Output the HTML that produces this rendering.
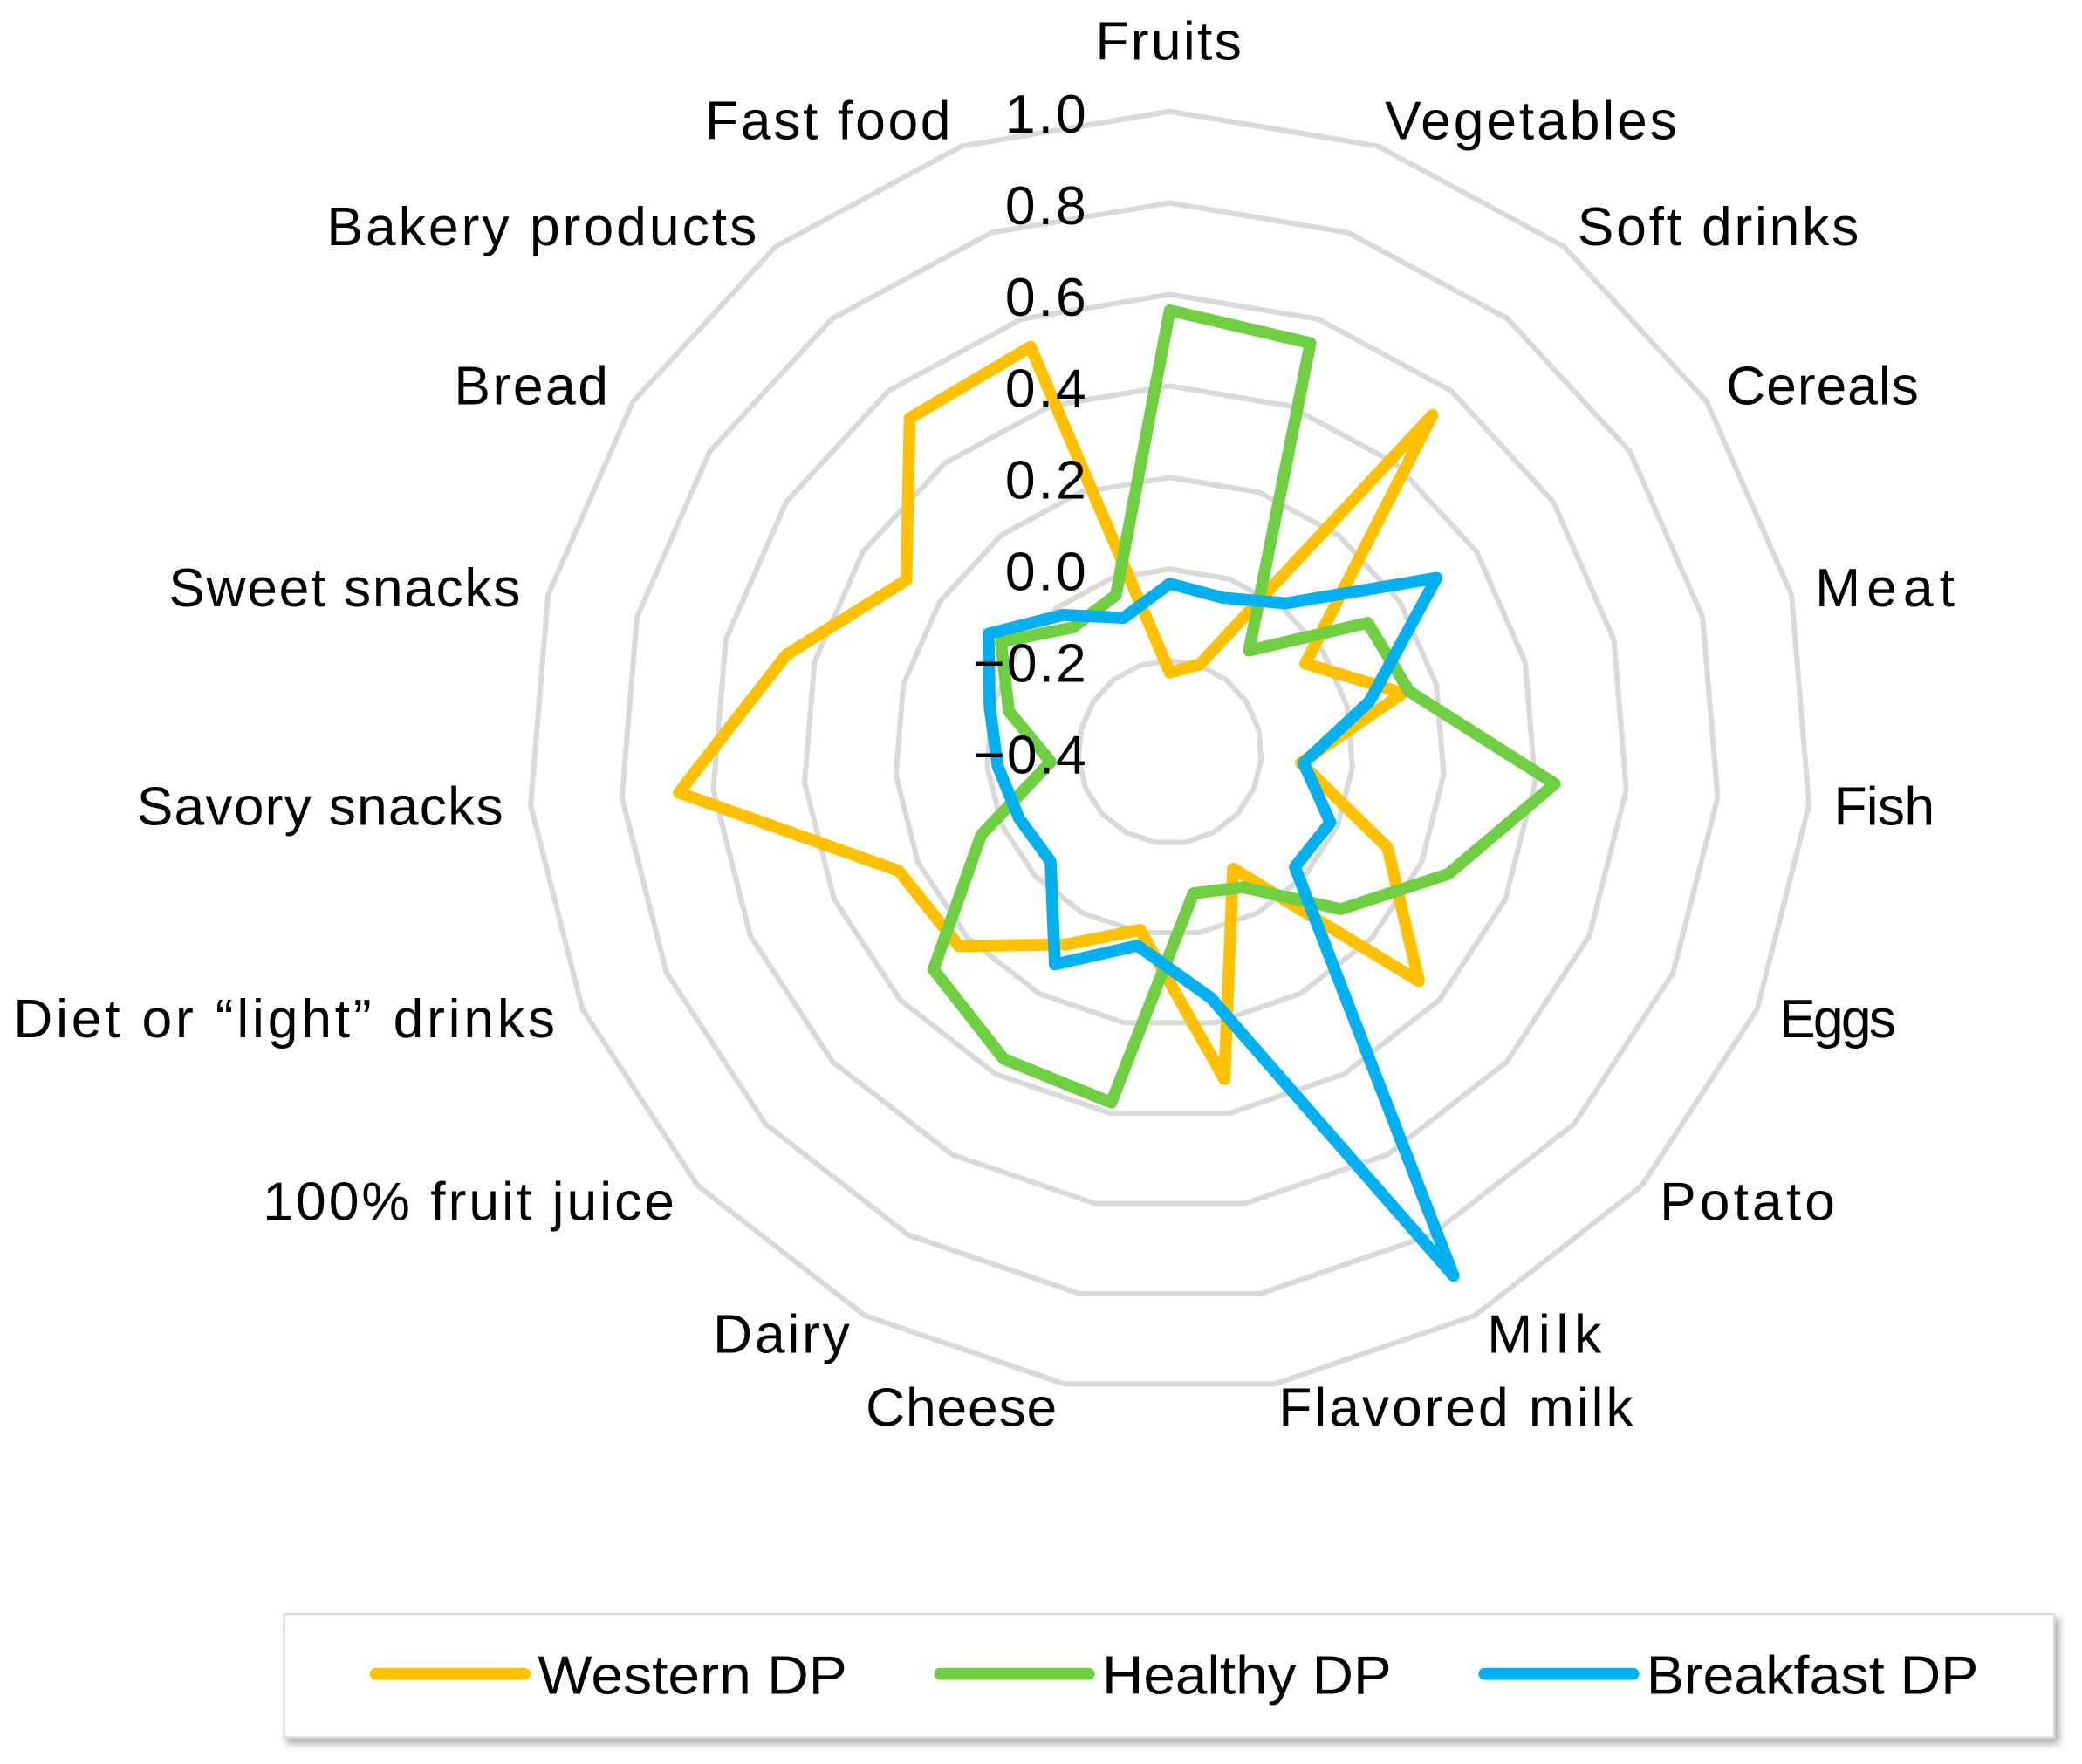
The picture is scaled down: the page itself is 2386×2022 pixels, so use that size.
<!DOCTYPE html>
<html><head><meta charset="utf-8"><style>
html,body{margin:0;padding:0;background:#fff;}
svg{display:block;}
text{font-family:"Liberation Sans","DejaVu Sans",sans-serif;font-size:41px;fill:#000;}
</style></head><body>
<svg id="s" width="2386" height="2022" viewBox="0 0 1568 1330" preserveAspectRatio="none" xmlns="http://www.w3.org/2000/svg">
<defs><filter id="sh" x="-5%" y="-20%" width="110%" height="150%"><feDropShadow dx="3" dy="4" stdDeviation="3" flood-color="#000" flood-opacity="0.35"/></filter></defs>
<g id="grid" fill="none" stroke="#d9d9d9" stroke-width="4"></g>
<g id="series" fill="none" stroke-width="9" stroke-linejoin="round"></g>
<g text-anchor="end" lengthAdjust="spacingAndGlyphs">
<text x="818" y="100" textLength="61">1.0</text>
<text x="818" y="169" textLength="61">0.8</text>
<text x="818" y="238" textLength="61">0.6</text>
<text x="818" y="307" textLength="61">0.4</text>
<text x="818" y="376" textLength="61">0.2</text>
<text x="818" y="445" textLength="61">0.0</text>
<text x="818" y="514" textLength="85">−0.2</text>
<text x="818" y="583" textLength="85">−0.4</text>
</g>
<g lengthAdjust="spacingAndGlyphs">
<text x="825" y="45" textLength="110">Fruits</text>
<text x="1043" y="105" textLength="220">Vegetables</text>
<text x="1188" y="185" textLength="212">Soft drinks</text>
<text x="1300" y="305" textLength="145">Cereals</text>
<text x="1367" y="457" textLength="105">Meat</text>
<text x="1381" y="622" textLength="76">Fish</text>
<text x="1340" y="782" textLength="88">Eggs</text>
<text x="1250" y="920" textLength="132">Potato</text>
<text x="1120" y="1020" textLength="86">Milk</text>
<text x="963" y="1075" textLength="267">Flavored milk</text>
<text x="652" y="1075" textLength="144">Cheese</text>
<text x="537" y="1020" textLength="103">Dairy</text>
<text x="198" y="920" textLength="310">100% fruit juice</text>
<text x="10" y="782" textLength="408">Diet or “light” drinks</text>
<text x="103" y="622" textLength="276">Savory snacks</text>
<text x="127" y="457" textLength="265">Sweet snacks</text>
<text x="342" y="305" textLength="116">Bread</text>
<text x="246" y="185" textLength="324">Bakery products</text>
<text x="531" y="105" textLength="185">Fast food</text>
</g>
<rect x="214" y="1217" width="1333" height="93" fill="#fff" stroke="#d9d9d9" stroke-width="1.5" filter="url(#sh)"/>
<line x1="283" y1="1262" x2="395" y2="1262" stroke="#ffc000" stroke-width="9" stroke-linecap="round"/>
<text x="405" y="1277" textLength="233" lengthAdjust="spacingAndGlyphs">Western DP</text>
<line x1="708" y1="1262" x2="820" y2="1262" stroke="#70ce42" stroke-width="9" stroke-linecap="round"/>
<text x="830" y="1277" textLength="218" lengthAdjust="spacingAndGlyphs">Healthy DP</text>
<line x1="1118" y1="1262" x2="1230" y2="1262" stroke="#00b0f0" stroke-width="9" stroke-linecap="round"/>
<text x="1240" y="1277" textLength="250" lengthAdjust="spacingAndGlyphs">Breakfast DP</text>
</svg>
<script>
var cx=881,cy=567,n=19,ns="http://www.w3.org/2000/svg";
function pts(rs){return rs.map(function(r,k){var a=k*2*Math.PI/n;return (cx+r*Math.sin(a)).toFixed(1)+","+(cy-r*Math.cos(a)).toFixed(1);}).join(" ");}
var g=document.getElementById("grid");
for(var i=1;i<=7;i++){var p=document.createElementNS(ns,"polygon");var rr=[];for(var k=0;k<n;k++)rr.push(69*i);p.setAttribute("points",pts(rr));g.appendChild(p);}
var data=[["#ffc000",[60,70,322,122,181,99,179,255,100,250,136,165,216,223,371,298,237,319,323]],
["#70ce42",[333,326,97,178,186,291,229,175,116,108,268,263,242,155,90,125,152,119,125]],
["#00b0f0",[127,123,142,240,155,101,132,128,449,188,148,182,122,124,130,140,163,131,107]]];
var s=document.getElementById("series");
data.forEach(function(d){var p=document.createElementNS(ns,"polygon");p.setAttribute("points",pts(d[1]));p.setAttribute("stroke",d[0]);s.appendChild(p);});
</script>
</body></html>
